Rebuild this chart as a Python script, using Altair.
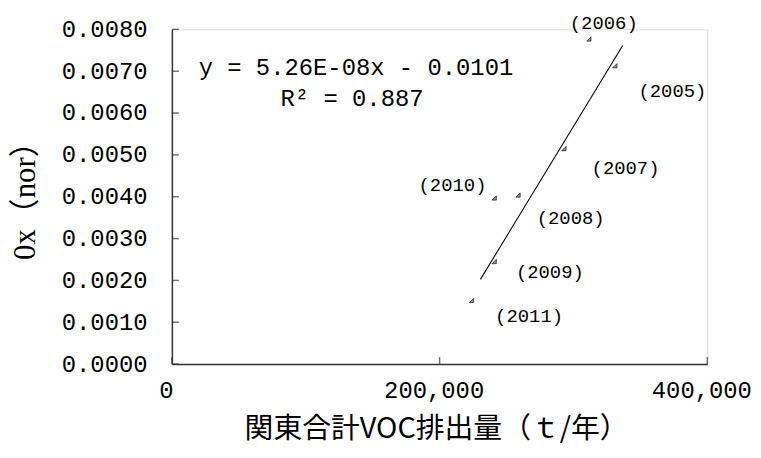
import altair as alt
import pandas as pd

# ---- data ----
years = ["2005", "2006", "2007", "2008", "2009", "2010", "2011"]
voc = [330900, 311500, 292900, 258600, 240800, 240800, 223800]
ox = [0.00713, 0.00777, 0.00515, 0.00404, 0.00245, 0.00397, 0.00152]

slope = 5.26e-8
intercept = -0.0101
trend_x = [230500, 336800]

eq_lines = ["y = 5.26E-08x - 0.0101", "R² = 0.887"]
eq_x = [137500, 134600]
eq_y = [0.00708, 0.00634]

x_ticks = [0, 200000, 400000]
y_ticks = [0.0, 0.001, 0.002, 0.003, 0.004, 0.005, 0.006, 0.007, 0.008]

# label offsets (pixels) for each year label
label_offsets = {
    "2005": (58, 25), "2006": (15, -16), "2007": (62, 20), "2008": (53, 23),
    "2009": (56, 11), "2010": (-42, -13), "2011": (58, 16),
}

W, H = 539, 337
MONO = "Liberation Mono"
CJK = "Noto Sans CJK JP"

df = pd.DataFrame({"year": years, "voc": voc, "ox": ox})
trend = pd.DataFrame({"voc": trend_x, "ox": [slope * v + intercept for v in trend_x]})
eq = pd.DataFrame({"text": eq_lines, "voc": eq_x, "ox": eq_y})
xt = pd.DataFrame({"voc": x_ticks})
yt = pd.DataFrame({"ox": y_ticks})

xscale = alt.Scale(domain=[0, 400000], nice=False, zero=False)
yscale = alt.Scale(domain=[0, 0.008], nice=False, zero=False)

main_xaxis = alt.Axis(
    values=x_ticks, format=",d", labelFont=MONO, labelFontSize=24, labelColor="black",
    labelPadding=15, labelOffset=-6, ticks=False, tickSize=0, domainColor="#333",
    domainWidth=1.5, grid=False, title="関東合計VOC排出量（ｔ/年）", titleFont=CJK,
    titleFontSize=29, titleFontWeight="normal", titleColor="black",
    titleX=266, titleY=65, titleAlign="center", titleBaseline="middle",
    labelFlush=False, labelOverlap=False,
)
main_yaxis = alt.Axis(
    values=y_ticks, format=".4f", labelFont=MONO, labelFontSize=24, labelColor="black",
    labelPadding=25, ticks=False, tickSize=0, domainColor="#333", domainWidth=1.5,
    grid=False, title="0x（nor）", titleFont="Liberation Serif, " + CJK, titleFontSize=31,
    titleFontWeight="normal", titleColor="black", titleX=-147, titleY=H / 2 - 4,
    titleAngle=-90, titleAlign="center", titleBaseline="middle",
    labelFlush=False, labelOverlap=False,
)

tri = "M -1 1 L 1 1 L 1 -1 Z"

points = alt.Chart(df).mark_point(
    shape=tri, size=18, filled=True, fill="#999", stroke="#222", strokeWidth=0.8, opacity=1
).encode(
    x=alt.X("voc:Q", scale=xscale, axis=main_xaxis),
    y=alt.Y("ox:Q", scale=yscale, axis=main_yaxis),
)

# inward-pointing axis ticks
xtick_marks = alt.Chart(xt).mark_tick(
    orient="vertical", size=7, thickness=1.5, color="#333", yOffset=-3.5
).encode(
    x=alt.X("voc:Q", scale=xscale),
    y=alt.datum(0, scale=yscale),
)
ytick_marks = alt.Chart(yt).mark_tick(
    orient="horizontal", size=7, thickness=1.5, color="#333", xOffset=3.5
).encode(
    y=alt.Y("ox:Q", scale=yscale),
    x=alt.datum(0, scale=xscale),
)

line = alt.Chart(trend).mark_line(color="black", strokeWidth=1.1).encode(
    x=alt.X("voc:Q", scale=xscale),
    y=alt.Y("ox:Q", scale=yscale),
)

eq_text = alt.Chart(eq).mark_text(
    font=MONO, fontSize=24, color="black", align="center", baseline="middle"
).encode(
    x=alt.X("voc:Q", scale=xscale),
    y=alt.Y("ox:Q", scale=yscale),
    text="text:N",
)

label_layers = []
for yr in years:
    dx, dy = label_offsets[yr]
    label_layers.append(
        alt.Chart(df).transform_filter(alt.datum.year == yr).transform_calculate(
            lab="'(' + datum.year + ')'"
        ).mark_text(
            font=MONO, fontSize=19, color="black", align="center", baseline="middle",
            dx=dx, dy=dy,
        ).encode(
            x=alt.X("voc:Q", scale=xscale),
            y=alt.Y("ox:Q", scale=yscale),
            text="lab:N",
        )
    )

chart = alt.layer(points, xtick_marks, ytick_marks, line, eq_text, *label_layers).properties(
    width=W, height=H,
    autosize=alt.AutoSizeParams(type="none"),
    padding={"left": 165, "top": 20, "right": 46, "bottom": 85},
).configure_view(stroke=None).configure(background="white")

chart.save("out.html", embed_options={"renderer": "svg", "actions": False})
